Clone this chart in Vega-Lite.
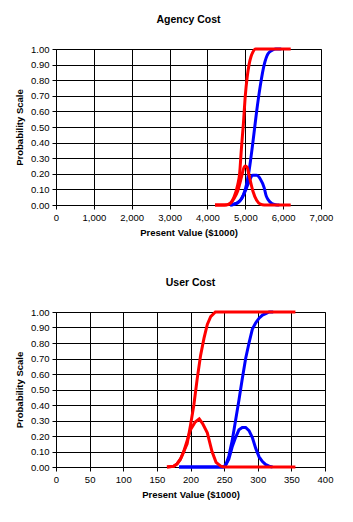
{
  "$schema": "https://vega.github.io/schema/vega-lite/v6.json",
  "background": "white",
  "padding": {"left": 14, "top": 14, "right": 5, "bottom": 5},
  "spacing": 39,
  "datasets": {
    "agency": [
      {"series": "Blue CDF", "col": "blue", "x": 4600, "y": 0},
      {"series": "Blue CDF", "col": "blue", "x": 4700, "y": 0.005},
      {"series": "Blue CDF", "col": "blue", "x": 4800, "y": 0.015},
      {"series": "Blue CDF", "col": "blue", "x": 4900, "y": 0.04},
      {"series": "Blue CDF", "col": "blue", "x": 5000, "y": 0.1},
      {"series": "Blue CDF", "col": "blue", "x": 5100, "y": 0.22},
      {"series": "Blue CDF", "col": "blue", "x": 5200, "y": 0.4},
      {"series": "Blue CDF", "col": "blue", "x": 5300, "y": 0.6},
      {"series": "Blue CDF", "col": "blue", "x": 5400, "y": 0.77},
      {"series": "Blue CDF", "col": "blue", "x": 5500, "y": 0.9},
      {"series": "Blue CDF", "col": "blue", "x": 5600, "y": 0.97},
      {"series": "Blue CDF", "col": "blue", "x": 5700, "y": 0.99},
      {"series": "Blue CDF", "col": "blue", "x": 5800, "y": 1.0},
      {"series": "Blue CDF", "col": "blue", "x": 5950, "y": 1.0},
      {"series": "Blue PDF", "col": "blue", "x": 4600, "y": 0},
      {"series": "Blue PDF", "col": "blue", "x": 4700, "y": 0.005},
      {"series": "Blue PDF", "col": "blue", "x": 4800, "y": 0.015},
      {"series": "Blue PDF", "col": "blue", "x": 4900, "y": 0.04},
      {"series": "Blue PDF", "col": "blue", "x": 5000, "y": 0.09},
      {"series": "Blue PDF", "col": "blue", "x": 5100, "y": 0.15},
      {"series": "Blue PDF", "col": "blue", "x": 5200, "y": 0.19},
      {"series": "Blue PDF", "col": "blue", "x": 5300, "y": 0.19},
      {"series": "Blue PDF", "col": "blue", "x": 5400, "y": 0.165},
      {"series": "Blue PDF", "col": "blue", "x": 5500, "y": 0.11},
      {"series": "Blue PDF", "col": "blue", "x": 5550, "y": 0.06},
      {"series": "Blue PDF", "col": "blue", "x": 5600, "y": 0.035},
      {"series": "Blue PDF", "col": "blue", "x": 5700, "y": 0.01},
      {"series": "Blue PDF", "col": "blue", "x": 5800, "y": 0.002},
      {"series": "Blue PDF", "col": "blue", "x": 5900, "y": 0},
      {"series": "Red CDF", "col": "red", "x": 4200, "y": 0},
      {"series": "Red CDF", "col": "red", "x": 4500, "y": 0},
      {"series": "Red CDF", "col": "red", "x": 4600, "y": 0.01},
      {"series": "Red CDF", "col": "red", "x": 4700, "y": 0.05},
      {"series": "Red CDF", "col": "red", "x": 4800, "y": 0.13},
      {"series": "Red CDF", "col": "red", "x": 4850, "y": 0.2},
      {"series": "Red CDF", "col": "red", "x": 4900, "y": 0.37},
      {"series": "Red CDF", "col": "red", "x": 4950, "y": 0.52},
      {"series": "Red CDF", "col": "red", "x": 5000, "y": 0.7},
      {"series": "Red CDF", "col": "red", "x": 5050, "y": 0.82},
      {"series": "Red CDF", "col": "red", "x": 5100, "y": 0.9},
      {"series": "Red CDF", "col": "red", "x": 5150, "y": 0.95},
      {"series": "Red CDF", "col": "red", "x": 5200, "y": 0.98},
      {"series": "Red CDF", "col": "red", "x": 5270, "y": 1.0},
      {"series": "Red CDF", "col": "red", "x": 6200, "y": 1.0},
      {"series": "Red PDF", "col": "red", "x": 4200, "y": 0},
      {"series": "Red PDF", "col": "red", "x": 4450, "y": 0},
      {"series": "Red PDF", "col": "red", "x": 4600, "y": 0.01},
      {"series": "Red PDF", "col": "red", "x": 4700, "y": 0.04},
      {"series": "Red PDF", "col": "red", "x": 4800, "y": 0.09},
      {"series": "Red PDF", "col": "red", "x": 4900, "y": 0.18},
      {"series": "Red PDF", "col": "red", "x": 4950, "y": 0.23},
      {"series": "Red PDF", "col": "red", "x": 5000, "y": 0.25},
      {"series": "Red PDF", "col": "red", "x": 5050, "y": 0.24},
      {"series": "Red PDF", "col": "red", "x": 5100, "y": 0.19},
      {"series": "Red PDF", "col": "red", "x": 5200, "y": 0.09},
      {"series": "Red PDF", "col": "red", "x": 5300, "y": 0.03},
      {"series": "Red PDF", "col": "red", "x": 5400, "y": 0.005},
      {"series": "Red PDF", "col": "red", "x": 5500, "y": 0},
      {"series": "Red PDF", "col": "red", "x": 6200, "y": 0}
    ],
    "user": [
      {"series": "Blue CDF", "col": "blue", "x": 183, "y": 0},
      {"series": "Blue CDF", "col": "blue", "x": 250, "y": 0},
      {"series": "Blue CDF", "col": "blue", "x": 253, "y": 0.02},
      {"series": "Blue CDF", "col": "blue", "x": 257, "y": 0.07},
      {"series": "Blue CDF", "col": "blue", "x": 262, "y": 0.17},
      {"series": "Blue CDF", "col": "blue", "x": 267, "y": 0.3},
      {"series": "Blue CDF", "col": "blue", "x": 272, "y": 0.43},
      {"series": "Blue CDF", "col": "blue", "x": 277, "y": 0.57},
      {"series": "Blue CDF", "col": "blue", "x": 282, "y": 0.7},
      {"series": "Blue CDF", "col": "blue", "x": 287, "y": 0.8},
      {"series": "Blue CDF", "col": "blue", "x": 292, "y": 0.89},
      {"series": "Blue CDF", "col": "blue", "x": 297, "y": 0.93},
      {"series": "Blue CDF", "col": "blue", "x": 302, "y": 0.96},
      {"series": "Blue CDF", "col": "blue", "x": 307, "y": 0.98},
      {"series": "Blue CDF", "col": "blue", "x": 312, "y": 0.99},
      {"series": "Blue CDF", "col": "blue", "x": 317, "y": 1.0},
      {"series": "Blue CDF", "col": "blue", "x": 323, "y": 1.0},
      {"series": "Blue PDF", "col": "blue", "x": 183, "y": 0},
      {"series": "Blue PDF", "col": "blue", "x": 248, "y": 0},
      {"series": "Blue PDF", "col": "blue", "x": 252, "y": 0.01},
      {"series": "Blue PDF", "col": "blue", "x": 257, "y": 0.05},
      {"series": "Blue PDF", "col": "blue", "x": 262, "y": 0.13},
      {"series": "Blue PDF", "col": "blue", "x": 267, "y": 0.19},
      {"series": "Blue PDF", "col": "blue", "x": 272, "y": 0.24},
      {"series": "Blue PDF", "col": "blue", "x": 277, "y": 0.255},
      {"series": "Blue PDF", "col": "blue", "x": 282, "y": 0.255},
      {"series": "Blue PDF", "col": "blue", "x": 287, "y": 0.235},
      {"series": "Blue PDF", "col": "blue", "x": 292, "y": 0.19},
      {"series": "Blue PDF", "col": "blue", "x": 297, "y": 0.12},
      {"series": "Blue PDF", "col": "blue", "x": 302, "y": 0.065},
      {"series": "Blue PDF", "col": "blue", "x": 307, "y": 0.035},
      {"series": "Blue PDF", "col": "blue", "x": 312, "y": 0.015},
      {"series": "Blue PDF", "col": "blue", "x": 317, "y": 0.005},
      {"series": "Blue PDF", "col": "blue", "x": 322, "y": 0},
      {"series": "Red CDF", "col": "red", "x": 165, "y": 0},
      {"series": "Red CDF", "col": "red", "x": 175, "y": 0.005},
      {"series": "Red CDF", "col": "red", "x": 180, "y": 0.02},
      {"series": "Red CDF", "col": "red", "x": 185, "y": 0.05},
      {"series": "Red CDF", "col": "red", "x": 190, "y": 0.1},
      {"series": "Red CDF", "col": "red", "x": 195, "y": 0.15},
      {"series": "Red CDF", "col": "red", "x": 200, "y": 0.27},
      {"series": "Red CDF", "col": "red", "x": 205, "y": 0.4},
      {"series": "Red CDF", "col": "red", "x": 210, "y": 0.57},
      {"series": "Red CDF", "col": "red", "x": 215, "y": 0.72},
      {"series": "Red CDF", "col": "red", "x": 220, "y": 0.83},
      {"series": "Red CDF", "col": "red", "x": 225, "y": 0.92},
      {"series": "Red CDF", "col": "red", "x": 230, "y": 0.97},
      {"series": "Red CDF", "col": "red", "x": 237, "y": 1.0},
      {"series": "Red CDF", "col": "red", "x": 356, "y": 1.0},
      {"series": "Red PDF", "col": "red", "x": 165, "y": 0},
      {"series": "Red PDF", "col": "red", "x": 175, "y": 0.005},
      {"series": "Red PDF", "col": "red", "x": 180, "y": 0.02},
      {"series": "Red PDF", "col": "red", "x": 185, "y": 0.05},
      {"series": "Red PDF", "col": "red", "x": 190, "y": 0.1},
      {"series": "Red PDF", "col": "red", "x": 195, "y": 0.17},
      {"series": "Red PDF", "col": "red", "x": 200, "y": 0.24},
      {"series": "Red PDF", "col": "red", "x": 207, "y": 0.29},
      {"series": "Red PDF", "col": "red", "x": 213, "y": 0.31},
      {"series": "Red PDF", "col": "red", "x": 218, "y": 0.28},
      {"series": "Red PDF", "col": "red", "x": 225, "y": 0.22},
      {"series": "Red PDF", "col": "red", "x": 232, "y": 0.1},
      {"series": "Red PDF", "col": "red", "x": 238, "y": 0.03},
      {"series": "Red PDF", "col": "red", "x": 245, "y": 0.005},
      {"series": "Red PDF", "col": "red", "x": 250, "y": 0},
      {"series": "Red PDF", "col": "red", "x": 356, "y": 0}
    ]
  },
  "vconcat": [
    {
      "title": "Agency Cost",
      "width": 265,
      "height": 156,
      "data": {"name": "agency"},
      "mark": {"type": "line", "strokeWidth": 3, "interpolate": "monotone"},
      "encoding": {
        "x": {"field": "x", "type": "quantitative", "scale": {"domain": [0, 7000], "nice": false}, "axis": {"title": "Present Value ($1000)", "values": [0, 1000, 2000, 3000, 4000, 5000, 6000, 7000], "format": ",.0f"}},
        "y": {"field": "y", "type": "quantitative", "scale": {"domain": [0, 1], "nice": false}, "axis": {"title": "Probability Scale", "values": [0, 0.1, 0.2, 0.3, 0.4, 0.5, 0.6, 0.7, 0.8, 0.9, 1.0], "format": ".2f"}},
        "color": {"field": "col", "type": "nominal", "scale": {"domain": ["blue", "red"], "range": ["#0000FF", "#FF0000"]}, "legend": null},
        "detail": {"field": "series"},
        "order": {"field": "x", "type": "quantitative"}
      }
    },
    {
      "title": "User Cost",
      "width": 269,
      "height": 155,
      "data": {"name": "user"},
      "mark": {"type": "line", "strokeWidth": 3},
      "encoding": {
        "x": {"field": "x", "type": "quantitative", "scale": {"domain": [0, 400], "nice": false}, "axis": {"title": "Present Value ($1000)", "values": [0, 50, 100, 150, 200, 250, 300, 350, 400], "format": "d"}},
        "y": {"field": "y", "type": "quantitative", "scale": {"domain": [0, 1], "nice": false}, "axis": {"title": "Probability Scale", "values": [0, 0.1, 0.2, 0.3, 0.4, 0.5, 0.6, 0.7, 0.8, 0.9, 1.0], "format": ".2f"}},
        "color": {"field": "col", "type": "nominal", "scale": {"domain": ["blue", "red"], "range": ["#0000FF", "#FF0000"]}, "legend": null},
        "detail": {"field": "series"},
        "order": {"field": "x", "type": "quantitative"}
      }
    }
  ],
  "config": {
    "font": "Liberation Sans",
    "view": {"stroke": "#808080", "strokeWidth": 1},
    "title": {"fontSize": 10.5, "fontWeight": "bold", "color": "#000000", "offset": 18, "anchor": "middle"},
    "axis": {
      "grid": true,
      "gridColor": "#000000",
      "gridOpacity": 1,
      "gridWidth": 1,
      "domainColor": "#000000",
      "tickColor": "#000000",
      "tickSize": 4,
      "labelFontSize": 9.5,
      "labelColor": "#000000",
      "labelPadding": 3,
      "titleFontSize": 9.5,
      "titleFontWeight": "bold",
      "titleColor": "#000000"
    },
    "axisX": {"titlePadding": 6, "labelFlush": false},
    "axisY": {"titlePadding": 6}
  }
}
